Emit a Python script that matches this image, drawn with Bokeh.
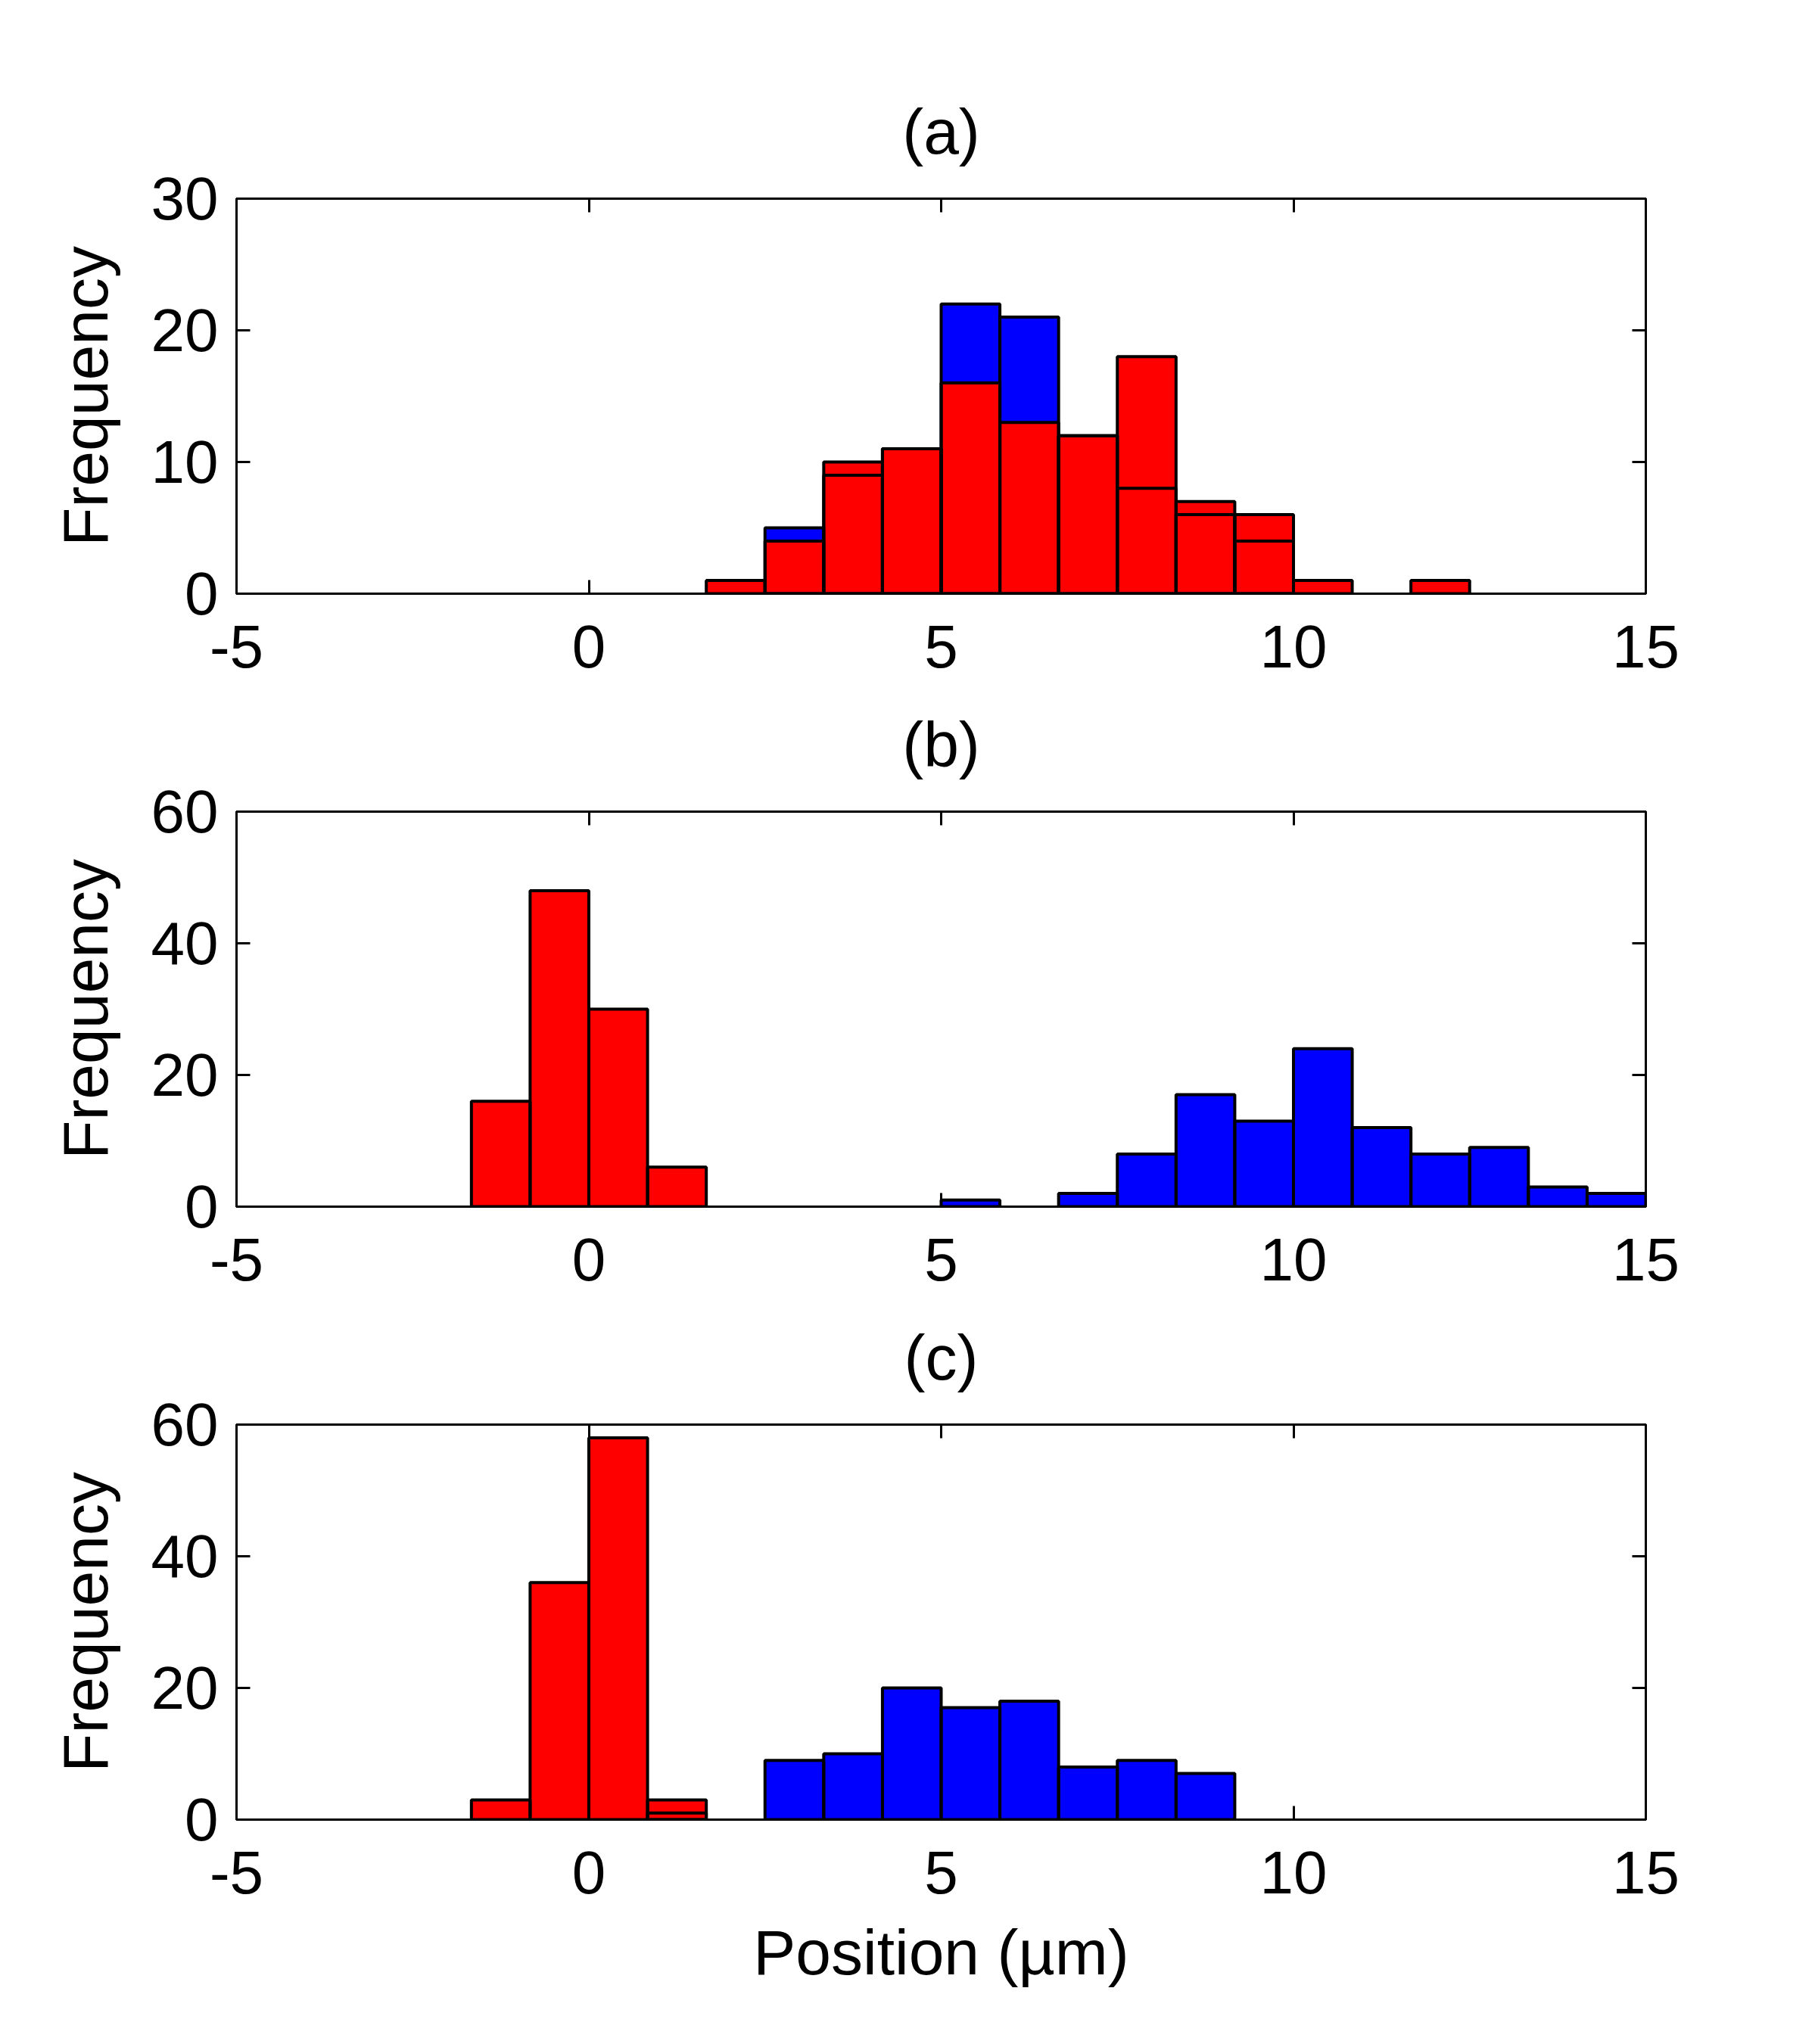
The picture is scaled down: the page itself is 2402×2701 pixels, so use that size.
from bokeh.plotting import figure
from bokeh.layouts import column
from bokeh.models import LinearAxis, FixedTicker, Range1d, ColumnDataSource
from bokeh.embed import file_html
from bokeh.resources import INLINE

# histogram bin edges (bin width 5/6 um)
BIN_EDGES = [-1.6667, -0.8333, 0.0, 0.8333, 1.6667, 2.5, 3.3333, 4.1667, 5.0,
             5.8333, 6.6667, 7.5, 8.3333, 9.1667, 10.0, 10.8333, 11.6667, 12.5,
             13.3333, 14.1667, 15.0]

# counts per bin, one entry per bin above
A_RED = [0, 0, 0, 0, 1, 4, 10, 11, 16, 13, 12, 18, 7, 6, 1, 0, 1, 0, 0, 0]
A_BLUE = [0, 0, 0, 0, 0, 5, 9, 11, 22, 21, 12, 8, 6, 4, 0, 0, 0, 0, 0, 0]
B_RED = [16, 48, 30, 6, 0, 0, 0, 0, 0, 0, 0, 0, 0, 0, 0, 0, 0, 0, 0, 0]
B_BLUE = [0, 0, 0, 0, 0, 0, 0, 0, 1, 0, 2, 8, 17, 13, 24, 12, 8, 9, 3, 2]
C_RED = [3, 36, 58, 3, 0, 0, 0, 0, 0, 0, 0, 0, 0, 0, 0, 0, 0, 0, 0, 0]
C_BLUE = [0, 0, 0, 1, 0, 9, 10, 20, 17, 18, 8, 9, 7, 0, 0, 0, 0, 0, 0, 0]

X_TICKS = [-5, 0, 5, 10, 15]
X_TICK_LABELS = ["-5", "0", "5", "10", "15"]
A_Y_TICKS = [0, 10, 20, 30]
BC_Y_TICKS = [0, 20, 40, 60]

FONT = "Liberation Sans"
TICK_SIZE = "80px"
LABEL_SIZE = "84px"
AX_W = 3
EDGE_W = 4


def bar_source(counts):
    left, right, top = [], [], []
    for i, c in enumerate(counts):
        if c > 0:
            left.append(BIN_EDGES[i])
            right.append(BIN_EDGES[i + 1])
            top.append(c)
    return ColumnDataSource(dict(left=left, right=right, top=top))


def style_axis(ax, ticks, labels=None, show_labels=True):
    ax.ticker = FixedTicker(ticks=ticks)
    ax.axis_line_width = AX_W
    ax.axis_line_color = "black"
    ax.major_tick_line_width = AX_W
    ax.major_tick_line_color = "black"
    ax.major_tick_in = 18
    ax.major_tick_out = 0
    ax.minor_tick_line_color = None
    ax.major_label_text_font = FONT
    ax.major_label_text_color = "black"
    if show_labels:
        ax.major_label_overrides = {t: s for t, s in zip(ticks, labels)}
        ax.major_label_text_font_size = TICK_SIZE
    else:
        # mirrored box ticks only, no labels
        ax.major_label_overrides = {t: "" for t in ticks}
        ax.major_label_text_font_size = "10px"
        ax.major_label_standoff = 0


def make_panel(title, red, blue, ymax, yticks, height, top, bottom,
               xlabel=None, margin=None):
    p = figure(width=2402, height=height, x_range=Range1d(-5, 15),
               y_range=Range1d(0, ymax), output_backend="svg",
               toolbar_location=None, min_border_left=312, min_border_right=228,
               min_border_top=top, min_border_bottom=bottom)
    if margin is not None:
        p.margin = margin
    p.background_fill_color = "white"
    p.border_fill_color = None
    p.xgrid.grid_line_color = None
    p.ygrid.grid_line_color = None
    p.outline_line_color = "black"
    p.outline_line_width = AX_W

    p.title.text = title
    p.title.align = "center"
    p.title.text_font = FONT
    p.title.text_font_size = LABEL_SIZE
    p.title.text_font_style = "normal"
    p.title.text_color = "black"
    p.title.standoff = 83

    style_axis(p.xaxis[0], X_TICKS, X_TICK_LABELS)
    p.xaxis.major_label_standoff = 42
    style_axis(p.yaxis[0], yticks, [str(t) for t in yticks])
    p.yaxis.major_label_standoff = 24
    p.yaxis.axis_label = "Frequency"
    p.yaxis.axis_label_text_font = FONT
    p.yaxis.axis_label_text_font_size = LABEL_SIZE
    p.yaxis.axis_label_text_font_style = "normal"
    p.yaxis.axis_label_text_color = "black"
    p.yaxis.axis_label_standoff = 37
    if xlabel:
        p.xaxis.axis_label = xlabel
        p.xaxis.axis_label_text_font = FONT
        p.xaxis.axis_label_text_font_size = LABEL_SIZE
        p.xaxis.axis_label_text_font_style = "normal"
        p.xaxis.axis_label_text_color = "black"
        p.xaxis.axis_label_standoff = 28

    top_ax = LinearAxis()
    style_axis(top_ax, X_TICKS, show_labels=False)
    p.add_layout(top_ax, "above")
    right_ax = LinearAxis()
    style_axis(right_ax, yticks, show_labels=False)
    p.add_layout(right_ax, "right")

    src_b = bar_source(blue)
    src_r = bar_source(red)
    p.quad(left="left", right="right", bottom=0, top="top", source=src_b,
           fill_color="#0000ff", line_color=None)
    p.quad(left="left", right="right", bottom=0, top="top", source=src_r,
           fill_color="#ff0000", line_color=None)
    p.quad(left="left", right="right", bottom=0, top="top", source=src_b,
           fill_color=None, line_color="black", line_width=EDGE_W)
    p.quad(left="left", right="right", bottom=0, top="top", source=src_r,
           fill_color=None, line_color="black", line_width=EDGE_W)
    return p


# panels b and c overlap the empty strip under the panel above them
pa = make_panel("(a)", A_RED, A_BLUE, 30, A_Y_TICKS, 934, 262, 150)
pb = make_panel("(b)", B_RED, B_BLUE, 60, BC_Y_TICKS, 872, 200, 150,
                margin=(-62, 0, 0, 0))
pc = make_panel("(c)", C_RED, C_BLUE, 60, BC_Y_TICKS, 1019, 200, 297,
                xlabel="Position (µm)", margin=(-62, 0, 0, 0))

layout = column(pa, pb, pc, spacing=0)
layout.styles = {"background-color": "white"}
open("out.html", "w").write(file_html(layout, INLINE))
